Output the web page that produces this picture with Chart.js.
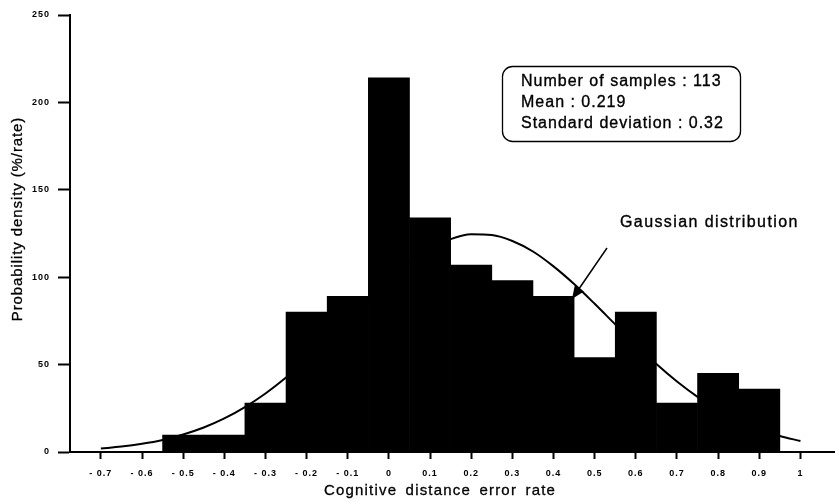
<!DOCTYPE html>
<html>
<head>
<meta charset="utf-8">
<title>Cognitive distance error rate</title>
<script src="https://cdn.jsdelivr.net/npm/chart.js@4.4.1/dist/chart.umd.min.js"></script>
<style>
  html, body { margin: 0; padding: 0; background: #fff; }
  #wrap { width: 835px; height: 502px; }
</style>
</head>
<body>
<div id="wrap"><canvas id="hist" width="835" height="502"></canvas></div>
<script>
// histogram: centre of each 0.1 wide bin and its density
const binCenters = [-0.5, -0.4, -0.3, -0.2, -0.1, 0, 0.1, 0.2, 0.3, 0.4, 0.5, 0.6, 0.7, 0.8, 0.9];
const density = [9.7, 9.7, 28, 80, 89, 214, 134, 107, 98, 89, 54, 80, 28, 45, 36];

// gaussian curve, every 0.05
const curveX = [-0.7, -0.65, -0.6, -0.55, -0.5, -0.45, -0.4, -0.35, -0.3, -0.25, -0.2, -0.15,
    -0.1, -0.05, 0, 0.05, 0.1, 0.15, 0.2, 0.25, 0.3, 0.35, 0.4, 0.45, 0.5, 0.55, 0.6, 0.65,
    0.7, 0.75, 0.8, 0.85, 0.9, 0.95, 1];
const curveY = [2.0, 3.1, 4.7, 6.9, 10.0, 14.0, 19.2, 25.7, 33.5, 42.6, 52.9, 64.1, 75.9, 87.5,
    98.6, 108.5, 116.4, 121.8, 124.5, 124.1, 120.7, 114.7, 106.2, 96.1, 84.8, 73.0, 61.3, 50.3,
    40.3, 31.5, 24.0, 17.8, 13.0, 9.2, 6.3];

const xTicks = [-0.7, -0.6, -0.5, -0.4, -0.3, -0.2, -0.1, 0, 0.1, 0.2, 0.3, 0.4, 0.5, 0.6, 0.7, 0.8, 0.9, 1];
const xTickLabels = ['- 0.7', '- 0.6', '- 0.5', '- 0.4', '- 0.3', '- 0.2', '- 0.1', '0', '0.1', '0.2',
    '0.3', '0.4', '0.5', '0.6', '0.7', '0.8', '0.9', '1'];
const yTicks = [0, 50, 100, 150, 200, 250];

const statsLines = ['Number of samples : 113', 'Mean : 0.219', 'Standard deviation : 0.32'];
const curveLabel = 'Gaussian distribution';
const xTitle = 'Cognitive distance error rate';
const yTitle = 'Probability density (%/rate)';

const TEXT_FONT = '"Liberation Sans", Arial, sans-serif';

// scanned text in the original is a bit heavier than a plain fill
function inkText(ctx, text, x, y) {
    ctx.fillText(text, x, y);
    ctx.strokeText(text, x, y);
}

const spacing = {
    id: 'spacing',
    beforeDraw(chart) {
        chart.ctx.letterSpacing = '1px';
    },
};

const annotations = {
    id: 'annotations',
    afterDraw(chart) {
        const { ctx } = chart;
        ctx.save();
        ctx.fillStyle = '#000';
        ctx.strokeStyle = '#000';

        // axis titles
        ctx.lineWidth = 0.3;
        ctx.font = `15px ${TEXT_FONT}`;
        ctx.letterSpacing = '1.2px';
        ctx.wordSpacing = '3px';
        ctx.textAlign = 'center';
        ctx.textBaseline = 'middle';
        inkText(ctx, xTitle, 440, 491);

        ctx.save();
        ctx.translate(17.5, 219);
        ctx.rotate(-Math.PI / 2);
        ctx.letterSpacing = '0.9px';
        ctx.wordSpacing = '0px';
        inkText(ctx, yTitle, 0, 0);
        ctx.restore();

        // stats box
        ctx.lineWidth = 1.3;
        ctx.beginPath();
        ctx.roundRect(502.5, 66.5, 238, 75, 10);
        ctx.stroke();

        ctx.lineWidth = 0.35;
        ctx.font = `16px ${TEXT_FONT}`;
        ctx.letterSpacing = '1px';
        ctx.wordSpacing = '0px';
        ctx.textAlign = 'left';
        statsLines.forEach((line, i) => inkText(ctx, line, 521, 82 + i * 21));

        // curve label and arrow
        ctx.letterSpacing = '1.4px';
        inkText(ctx, curveLabel, 620, 223);

        const tail = { x: 607, y: 248 };
        const tip = { x: 572, y: 299 };
        const dx = tip.x - tail.x;
        const dy = tip.y - tail.y;
        const len = Math.hypot(dx, dy);
        const ux = dx / len;
        const uy = dy / len;
        const headLen = 13;
        const headW = 5.5;
        const bx = tip.x - ux * headLen;
        const by = tip.y - uy * headLen;

        ctx.lineWidth = 1.5;
        ctx.beginPath();
        ctx.moveTo(tail.x, tail.y);
        ctx.lineTo(bx, by);
        ctx.stroke();

        ctx.beginPath();
        ctx.moveTo(tip.x, tip.y);
        ctx.lineTo(bx - uy * headW, by + ux * headW);
        ctx.lineTo(bx + uy * headW, by - ux * headW);
        ctx.closePath();
        ctx.fill();

        ctx.restore();
        ctx.letterSpacing = '0px';
    },
};

const tickFont = { family: TEXT_FONT, size: 9, weight: 'bold' };

new Chart(document.getElementById('hist'), {
    type: 'bar',
    data: {
        datasets: [
            {
                type: 'line',
                data: curveX.map((v, i) => ({ x: v, y: curveY[i] })),
                borderColor: '#000',
                borderWidth: 2,
                pointRadius: 0,
                fill: false,
                cubicInterpolationMode: 'monotone',
                order: 0,
            },
            {
                type: 'bar',
                data: binCenters.map((v, i) => ({ x: v, y: density[i] })),
                backgroundColor: '#000',
                borderWidth: 0,
                barPercentage: 1,
                categoryPercentage: 1,
                order: 1,
            },
        ],
    },
    options: {
        responsive: false,
        animation: false,
        events: [],
        layout: { padding: { top: 15, left: 0, right: 0, bottom: 0 } },
        plugins: {
            legend: { display: false },
            tooltip: { enabled: false },
        },
        scales: {
            x: {
                type: 'linear',
                min: -0.775,
                max: 1.084,
                offset: false,
                afterFit: (scale) => { scale.height = 50; },
                afterBuildTicks: (scale) => { scale.ticks = xTicks.map((v) => ({ value: v })); },
                grid: {
                    offset: false,
                    drawOnChartArea: false,
                    drawTicks: true,
                    tickLength: 7,
                    tickWidth: 2,
                    tickColor: '#000',
                },
                border: { color: '#000', width: 2 },
                ticks: {
                    autoSkip: false,
                    maxRotation: 0,
                    padding: 9,
                    color: '#000',
                    font: tickFont,
                    callback: (value, index) => xTickLabels[index],
                },
            },
            y: {
                min: 0,
                max: 250,
                afterFit: (scale) => { scale.width = 70; },
                afterBuildTicks: (scale) => { scale.ticks = yTicks.map((v) => ({ value: v })); },
                grid: {
                    drawOnChartArea: false,
                    drawTicks: true,
                    tickLength: 12,
                    tickWidth: 2,
                    tickColor: '#000',
                },
                border: { color: '#000', width: 2 },
                ticks: {
                    padding: 8,
                    color: '#000',
                    font: tickFont,
                    callback: (value) => String(value),
                },
            },
        },
    },
    plugins: [spacing, annotations],
});
</script>
</body>
</html>
